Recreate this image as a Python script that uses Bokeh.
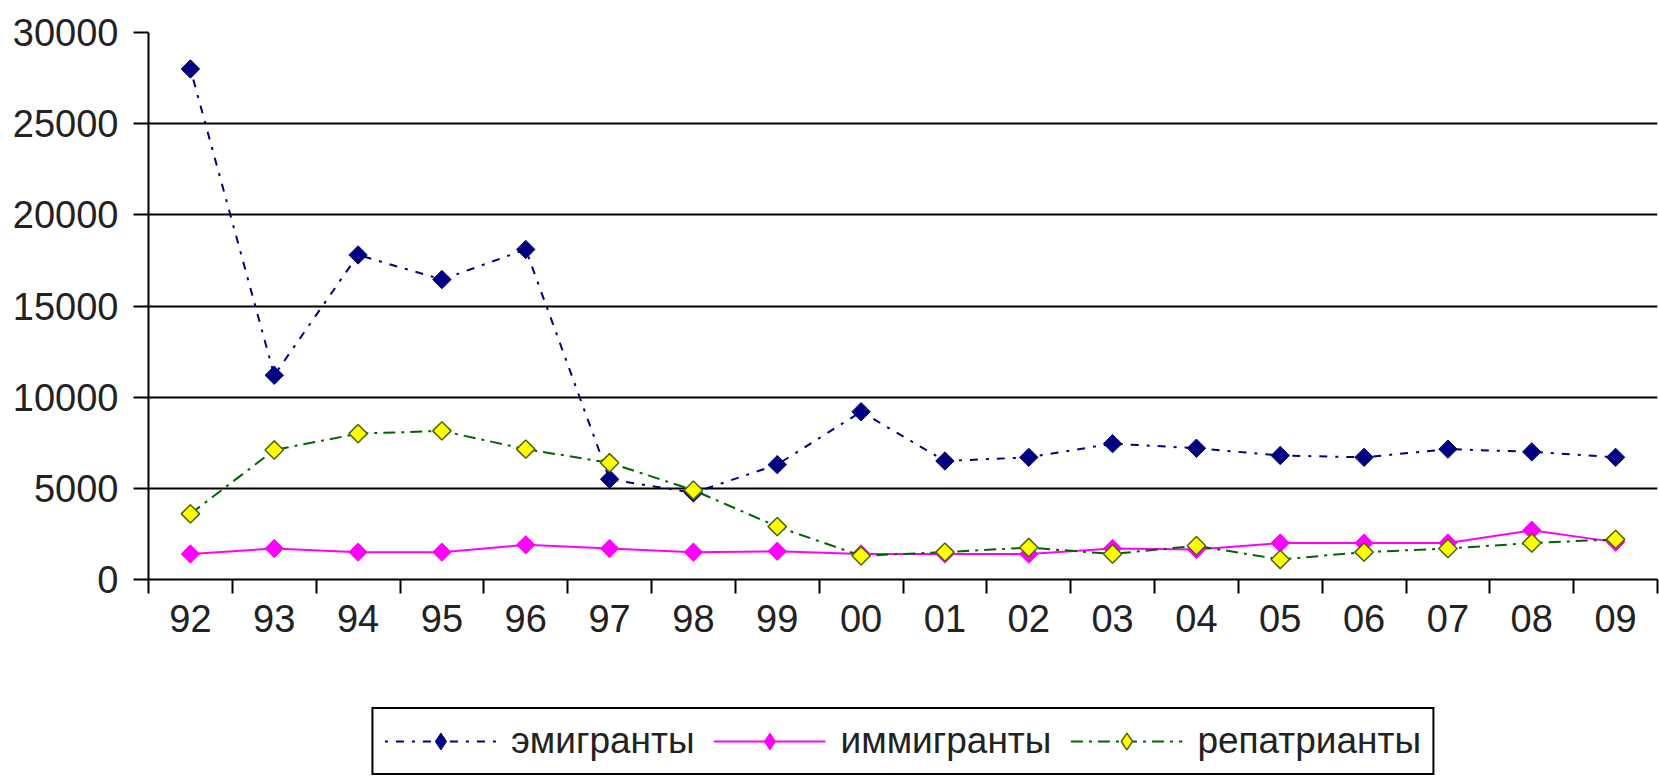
from math import pi
from bokeh.plotting import figure
from bokeh.layouts import column
from bokeh.models import (Range1d, LinearAxis, FixedTicker,
                          NumeralTickFormatter, Legend, ColumnDataSource)
from bokeh.embed import file_html
from bokeh.resources import INLINE

years = ["92", "93", "94", "95", "96", "97", "98", "99", "00",
         "01", "02", "03", "04", "05", "06", "07", "08", "09"]
emigrants = [28000, 11200, 17800, 16450, 18100, 5500, 4750, 6300, 9200,
             6500, 6700, 7450, 7200, 6800, 6700, 7150, 7000, 6700]
immigrants = [1400, 1700, 1500, 1500, 1900, 1700, 1500, 1550, 1400,
              1400, 1400, 1700, 1650, 2000, 2000, 2000, 2700, 2050]
repatriants = [3600, 7100, 8000, 8150, 7150, 6400, 4900, 2900, 1300,
               1500, 1750, 1400, 1850, 1100, 1500, 1700, 2000, 2200]
series_names = ["эмигранты", "иммигранты", "репатрианты"]
y_ticks = [0, 5000, 10000, 15000, 20000, 25000, 30000]

FONT = "Liberation Sans"
n = len(years)
# category i occupies the slot [i, i+1] on the x scale; points sit at its centre
slot_centre = [i + 0.5 for i in range(n)]
src = ColumnDataSource(dict(x=slot_centre, year=years, emi=emigrants,
                            imm=immigrants, rep=repatriants))

STYLES = [
    dict(col="emi", line=dict(line_color="#000080", line_width=2, line_dash="3 8 8 8"),
         mark=dict(fill_color="#000080", line_color="#000080")),
    dict(col="imm", line=dict(line_color="#FF00FF", line_width=2),
         mark=dict(fill_color="#FF00FF", line_color="#FF00FF")),
    dict(col="rep", line=dict(line_color="#006400", line_width=2, line_dash="12 6 3 6"),
         mark=dict(fill_color="#FFFF00", line_color="#4d6600", line_width=1.5)),
]

# ---------------- main chart ----------------
p = figure(width=1659, height=703, output_backend="svg", toolbar_location=None,
           x_range=Range1d(0, n), y_range=Range1d(0, 30000),
           x_axis_location=None,
           min_border_left=148, min_border_right=2, min_border_top=32,
           min_border_bottom=124, outline_line_color=None,
           background_fill_color="white", border_fill_color="white")

p.yaxis.ticker = FixedTicker(ticks=y_ticks)
p.yaxis.formatter = NumeralTickFormatter(format="0")
p.yaxis.axis_line_color = "black"
p.yaxis.axis_line_width = 2
p.yaxis.major_tick_line_color = "black"
p.yaxis.major_tick_line_width = 2
p.yaxis.major_tick_out = 15
p.yaxis.major_tick_in = 0
p.yaxis.minor_tick_line_color = None
p.yaxis.major_label_standoff = 15
p.yaxis.major_label_text_font = FONT
p.yaxis.major_label_text_font_size = "38px"
p.yaxis.major_label_text_color = "#222222"

p.ygrid.grid_line_color = "black"
p.ygrid.grid_line_width = 2
p.ygrid.ticker = FixedTicker(ticks=y_ticks)
p.xgrid.grid_line_color = None

# x axis: labels centred on categories, ticks on category boundaries
xa = LinearAxis(ticker=FixedTicker(ticks=slot_centre,
                                   minor_ticks=list(range(n + 1))))
xa.major_label_overrides = {c: y for c, y in zip(slot_centre, years)}
xa.axis_line_color = "black"
xa.axis_line_width = 2
xa.major_tick_line_color = None
xa.major_tick_out = 0
xa.major_tick_in = 0
xa.minor_tick_line_color = "black"
xa.minor_tick_line_width = 2
xa.minor_tick_out = 14
xa.minor_tick_in = 0
xa.major_label_standoff = 11
xa.major_label_text_font = FONT
xa.major_label_text_font_size = "38px"
xa.major_label_text_color = "#222222"
p.add_layout(xa, "below")

for st in STYLES:
    p.line("x", st["col"], source=src, **st["line"])
    p.scatter("x", st["col"], source=src, marker="square", size=13,
              angle=pi / 4, **st["mark"])

# ---------------- legend strip below the chart ----------------
# same series, drawn outside this strip's (empty) view so that only the legend shows
q = figure(width=1659, height=76, output_backend="svg", toolbar_location=None,
           x_range=Range1d(0, n), y_range=Range1d(-2, -1),
           x_axis_location=None, y_axis_location=None,
           min_border_left=148, min_border_right=2, min_border_top=0,
           min_border_bottom=0, outline_line_color=None,
           background_fill_color="white", border_fill_color="white")
q.grid.visible = False
items = []
for name, st in zip(series_names, STYLES):
    rl = q.line("x", st["col"], source=src, **st["line"])
    rm = q.scatter("x", st["col"], source=src, marker="diamond", size=20, **st["mark"])
    items.append((name, [rl, rm]))

legend = Legend(items=items, orientation="horizontal", location="center")
legend.label_text_font = FONT
legend.label_text_font_size = "37px"
legend.label_text_color = "#222222"
legend.glyph_width = 112
legend.glyph_height = 42
legend.label_standoff = 15
legend.spacing = 19
legend.padding = 11
legend.margin = 0
legend.border_line_color = "black"
legend.border_line_alpha = 1
legend.border_line_width = 2
legend.background_fill_color = "white"
legend.background_fill_alpha = 1
q.add_layout(legend, "center")

layout = column(p, q, spacing=0)
open("out.html", "w").write(file_html(layout, INLINE))
